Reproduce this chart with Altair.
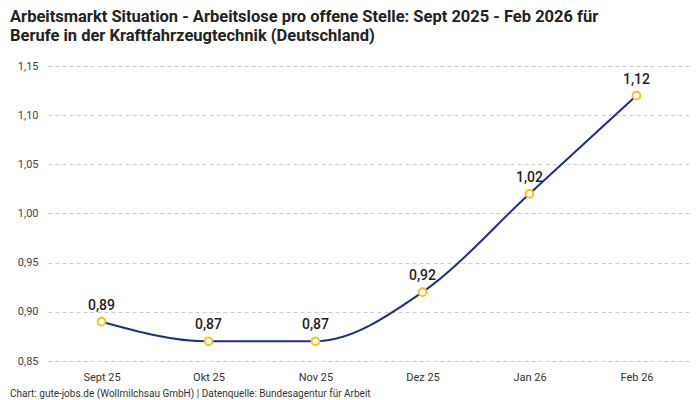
import altair as alt
import pandas as pd

months = ["Sept 25", "Okt 25", "Nov 25", "Dez 25", "Jan 26", "Feb 26"]
values = [0.89, 0.87, 0.87, 0.92, 1.02, 1.12]
labels = ["0,89", "0,87", "0,87", "0,92", "1,02", "1,12"]

df = pd.DataFrame({"Monat": months, "Wert": values, "Label": labels})

W, H = 642, 295
FONT = "Roboto"

x = alt.X("Monat:N", sort=months, title=None,
          scale=alt.Scale(type="point", padding=0.5),
          axis=alt.Axis(labelAngle=0, ticks=False, domain=False, grid=False,
                        labelFontSize=11, labelColor="#333333", labelPadding=10,
                        labelFont=FONT))
y = alt.Y("Wert:Q", title=None,
          scale=alt.Scale(domain=[0.85, 1.15], nice=False, zero=False),
          axis=alt.Axis(values=[0.85, 0.9, 0.95, 1.0, 1.05, 1.1, 1.15],
                        labelExpr="replace(format(datum.value, '.2f'), '.', ',')",
                        ticks=False, domain=False, grid=True,
                        gridDash=[4, 3], gridColor="#cccccc", gridWidth=1,
                        labelFontSize=11, labelColor="#444444", labelPadding=10,
                        labelFont=FONT))

base = alt.Chart(df)

line = base.mark_line(interpolate="monotone", color="#1b2e8c", strokeWidth=2).encode(x=x, y=y)
points = base.mark_point(filled=True, fill="white", stroke="#f5c518", strokeWidth=2,
                         size=60, opacity=1).encode(x=x, y=y)
text = base.mark_text(dy=-16, fontSize=14, fontWeight=500, color="#222222",
                      font=FONT).encode(x=x, y=y, text="Label:N")

footer = alt.Chart(pd.DataFrame({"t": ["Chart: gute-jobs.de (Wollmilchsau GmbH) | Datenquelle: Bundesagentur für Arbeit"]})).mark_text(
    align="left", baseline="middle", fontSize=10, color="#333333", font=FONT
).encode(x=alt.value(-38), y=alt.value(H + 33), text="t:N")

chart = alt.layer(line, points, text, footer).properties(
    width=W, height=H,
    title=alt.TitleParams(
        ["Arbeitsmarkt Situation - Arbeitslose pro offene Stelle: Sept 2025 - Feb 2026 für",
         "Berufe in der Kraftfahrzeugtechnik (Deutschland)"],
        anchor="start", frame="bounds", fontSize=16.5, fontWeight="bold",
        font=FONT, color="#222222", offset=16, lineHeight=19),
    padding={"left": 2, "top": 0, "right": 0, "bottom": 0},
).configure_view(stroke=None)

chart.save("out.html", embed_options={"renderer": "svg", "actions": False})
